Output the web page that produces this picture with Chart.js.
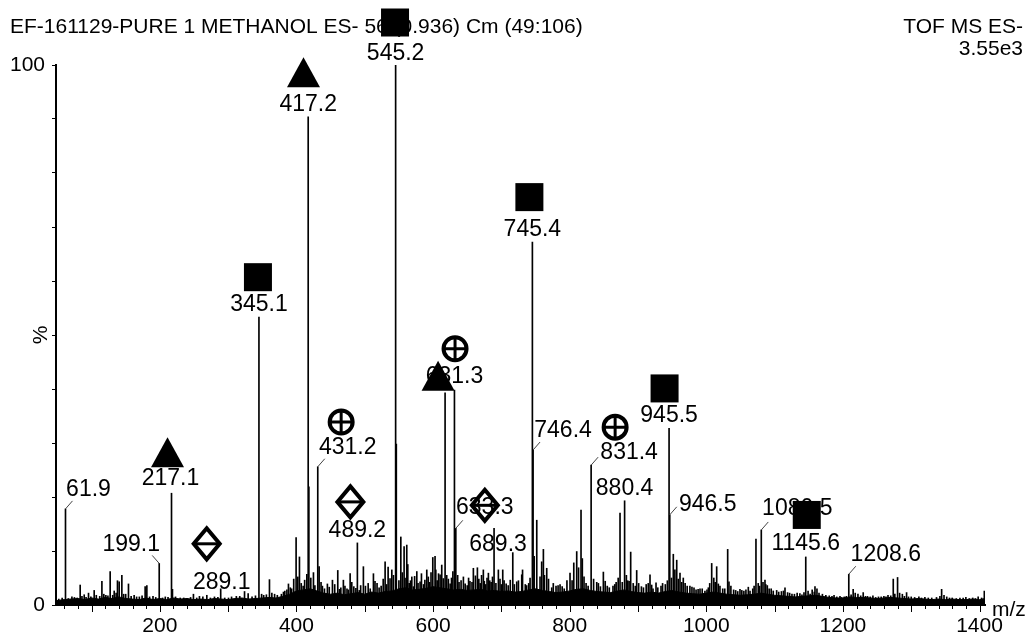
<!DOCTYPE html>
<html>
<head>
<meta charset="utf-8">
<script src="https://cdn.jsdelivr.net/npm/chart.js@4.4.1/dist/chart.umd.min.js"></script>
<style>
html,body{margin:0;padding:0;background:#fff;}
#wrap{width:1032px;height:636px;position:relative;}
</style>
</head>
<body>
<div id="wrap"><canvas id="c" width="1032" height="636"></canvas></div>
<script>
// ---------- DATA ----------
const titleText = 'EF-161129-PURE 1 METHANOL ES- 56 (0.936) Cm (49:106)';
const instrumentLines = ['TOF MS ES-', '3.55e3'];
const xAxisTitle = 'm/z';
const yAxisTitle = '%';
const xTickLabels = [200, 400, 600, 800, 1000, 1200, 1400];
const yTickLabels = [0, 100];

// main stick spectrum: m/z and relative intensity (%)
const peakMz = [
  61.9, 71.3, 83.4, 89.3, 95.6, 103.9, 115.2, 121, 127.3, 133.2, 138, 140.5, 144.4, 150, 154.1, 162.4, 170, 178.5, 181, 190,
  199.1, 208, 217.1, 218.5, 229.8, 240, 249.2, 258, 268.8, 280, 289.1, 300.5, 312, 324, 329.3, 345.1, 352, 360.5, 368, 376.1,
  383, 388.3, 393, 399.5, 404.4, 409.8, 415.2, 417.2, 418.2, 424.9, 431.2, 433.2, 438, 445.3, 452.7, 460.5, 465, 468.7, 474, 478.6,
  484, 489.2, 494, 498, 505, 512.7, 518, 524, 529.8, 534.2, 539.6, 545.2, 546.2, 550, 552.8, 557.6, 561.5, 565, 568.9, 571.2,
  576.2, 581, 586, 590.8, 595, 599.6, 602.9, 606, 610.3, 612.7, 617.6, 622.4, 627, 631.3, 633.3, 638, 644.4, 650, 654, 659,
  664.9, 669, 673.6, 677, 681, 685, 689.3, 695.6, 700, 704, 710, 716.7, 722.5, 729.8, 735, 740, 745.4, 746.4, 751.8, 756.6,
  761.5, 766.4, 773.7, 780, 785.9, 792, 800.5, 803.5, 810.3, 816.6, 818.5, 824, 831.4, 839.6, 845, 849.3, 855, 863.4, 868, 873.7,
  880.4, 885, 889.3, 893, 898.1, 905, 912, 917.6, 922, 926.4, 933.7, 940, 945.5, 946.5, 951.7, 956.7, 961.5, 966.3, 972, 979,
  985, 990.8, 998, 1003, 1007.9, 1015.2, 1017.6, 1024, 1031.3, 1033.2, 1040, 1049.3, 1055, 1061.5, 1068, 1072.7, 1080.5, 1085.9, 1089.3, 1095,
  1103, 1110, 1115.2, 1125.4, 1133, 1140, 1145.6, 1152, 1159.1, 1162, 1170, 1180, 1187, 1195.7, 1202, 1208.6, 1215, 1222, 1229.7, 1236,
  1243.9, 1252, 1260, 1266, 1273.7, 1280, 1287, 1293.2, 1300, 1311.2, 1320, 1330, 1337, 1344.5, 1352, 1360, 1371.3, 1380, 1390, 1398,
  1407
];
const peakIntensity = [
  17.8, 1.5, 3.7, 1.9, 2.2, 2.7, 4.4, 1.8, 6.2, 2.6, 4.5, 4.3, 5.5, 2.0, 3.9, 1.8, 1.5, 3.4, 3.6, 1.6,
  7.7, 1.5, 20.7, 2.9, 1.3, 1.2, 2.0, 1.6, 1.8, 1.5, 3.0, 1.3, 1.6, 2.5, 2.1, 53.3, 1.8, 4.7, 2.0, 1.3,
  2.6, 3.9, 3.0, 12.5, 8.9, 3.5, 5.7, 90.4, 21.9, 6.0, 25.6, 7.1, 3.5, 3.9, 4.6, 6.4, 3.2, 4.6, 3.0, 5.8,
  3.4, 11.5, 3.6, 7.1, 4.0, 5.8, 4.0, 3.5, 8.0, 7.0, 6.5, 100, 29.8, 4.5, 12.6, 10.8, 11.1, 4.0, 5.2, 3.4,
  6.2, 4.3, 3.8, 6.5, 4.2, 8.8, 9.0, 4.5, 5.6, 7.4, 39.3, 4.8, 5.0, 39.8, 14.2, 4.2, 5.2, 3.6, 4.4, 6.8,
  6.9, 4.0, 6.5, 3.8, 5.9, 4.2, 14.2, 6.5, 3.8, 4.5, 3.6, 9.7, 4.3, 5.6, 3.8, 4.0, 67.2, 28.7, 15.7, 5.2,
  10.3, 6.8, 3.2, 3.5, 3.8, 3.0, 5.9, 4.5, 9.9, 17.6, 8.6, 4.0, 25.9, 4.2, 3.4, 6.1, 3.5, 3.5, 4.2, 17.0,
  19.3, 4.5, 9.8, 4.0, 6.4, 3.4, 3.8, 5.6, 3.0, 4.1, 3.5, 3.8, 32.7, 16.7, 9.4, 8.3, 5.9, 5.0, 3.5, 3.3,
  2.8, 3.0, 2.6, 3.2, 7.7, 7.1, 3.9, 3.0, 10.3, 4.3, 2.8, 2.9, 2.6, 3.3, 3.0, 12.2, 13.9, 4.6, 3.6, 3.0,
  2.7, 2.5, 3.2, 2.0, 2.2, 1.9, 8.9, 2.0, 3.4, 3.0, 2.0, 1.7, 1.8, 1.6, 1.5, 5.7, 2.9, 2.0, 2.3, 1.6,
  1.7, 1.5, 1.6, 1.8, 4.8, 5.1, 2.0, 2.3, 1.5, 1.5, 1.4, 1.3, 1.4, 2.9, 1.5, 1.3, 1.3, 1.4, 1.3, 1.5,
  2.6
];

// small noise spikes between the main peaks (%)
const noiseMz = [
  52, 57, 66, 75, 79, 86, 92, 99, 107, 112, 118, 124, 131, 136, 147, 158, 166, 174, 185, 194,
  204, 212, 223, 235, 245, 254, 263, 274, 285, 295, 305, 317, 335, 340, 349, 356, 364, 372, 378,
  381, 386, 391, 396, 402, 407, 412, 421, 427, 436, 441, 448, 456, 463, 471, 476, 481, 487, 492, 501,
  508, 515, 521, 527, 532, 537, 542, 555, 559, 563, 567, 573, 578, 583, 588, 593, 597, 604, 608, 615,
  620, 625, 629, 636, 641, 647, 652, 657, 662, 667, 671, 675, 679, 683, 687, 692, 698, 702, 707, 713,
  719, 725, 731, 737, 742, 748, 759, 763, 769, 776, 783, 789, 796, 806, 813, 821, 827, 835, 842, 852,
  858, 866, 871, 877, 883, 887, 896, 901, 908, 915, 920, 929, 936, 943, 949, 954, 959, 964, 969, 976,
  982, 988, 994, 1001, 1005, 1011, 1013, 1020, 1027, 1036, 1043, 1046, 1052, 1058, 1064, 1070, 1076, 1078, 1083, 1087,
  1092, 1098, 1106, 1113, 1119, 1122, 1129, 1137, 1143, 1149, 1155, 1158, 1165, 1175, 1184, 1191, 1198, 1205, 1212, 1218,
  1226, 1233, 1240, 1248, 1256, 1263, 1270, 1276, 1283, 1290, 1296, 1305, 1315, 1325, 1342, 1348, 1356, 1366, 1376, 1385,
  1394, 1403
];
const noiseIntensity = [
  1.1, 1.3, 1.2, 1.4, 1.3, 1.6, 1.4, 1.5, 1.8, 1.6, 2.0, 1.7, 1.8, 2.2, 2.0, 1.6, 1.5, 1.7, 1.5, 1.4,
  1.3, 1.4, 1.5, 1.3, 1.4, 1.3, 1.5, 1.3, 1.4, 1.3, 1.5, 1.6, 1.5, 1.7, 2.0, 1.9, 2.2, 1.8, 2.0,
  2.4, 2.8, 3.2, 4.8, 5.2, 4.0, 4.6, 5.0, 3.6, 4.2, 3.0, 3.3, 3.8, 2.9, 3.5, 2.8, 4.2, 3.1, 2.7, 3.5,
  3.0, 4.4, 3.2, 4.8, 3.8, 4.9, 5.5, 6.0, 5.0, 7.5, 4.5, 5.3, 4.0, 5.8, 4.6, 5.2, 6.0, 6.5, 5.8, 4.9,
  5.5, 3.9, 6.2, 5.5, 4.5, 3.9, 5.0, 4.2, 5.4, 4.8, 5.5, 4.4, 5.0, 4.5, 5.2, 4.0, 4.8, 6.5, 3.9, 4.6,
  3.8, 4.5, 6.5, 3.6, 5.0, 9.0, 8.0, 5.5, 4.8, 4.0, 3.6, 3.4, 4.5, 7.8, 6.9, 5.2, 3.5, 4.8, 4.0, 4.4,
  3.2, 3.8, 5.0, 4.2, 5.5, 4.4, 3.5, 4.0, 3.2, 4.0, 3.7, 3.2, 4.0, 4.5, 5.0, 6.5, 4.8, 4.2, 4.0, 3.5,
  3.2, 2.9, 3.0, 2.8, 4.0, 5.0, 4.2, 3.5, 3.0, 3.5, 2.7, 2.5, 2.7, 2.8, 2.6, 3.5, 4.0, 3.5, 4.2, 3.8,
  3.0, 2.6, 2.4, 2.6, 2.3, 2.2, 2.0, 2.1, 2.3, 2.6, 2.8, 2.4, 2.2, 1.8, 1.6, 1.5, 1.4, 1.6, 1.9, 2.2,
  1.7, 1.6, 1.5, 1.4, 1.5, 1.5, 1.7, 2.0, 2.2, 1.6, 1.5, 1.4, 1.3, 1.3, 1.6, 1.8, 1.3, 1.2, 1.3, 1.2,
  1.2, 1.3
];

// dense baseline noise band (upper envelope, %)
const floorMz = [
  48, 60, 70, 80, 90, 100, 110, 120, 130, 140, 150, 160, 170, 180, 190, 200, 210, 220, 230, 240,
  250, 260, 270, 280, 290, 300, 310, 320, 330, 340, 350, 360, 370, 380, 390, 400, 410, 420, 430, 440,
  450, 460, 470, 480, 490, 500, 510, 520, 530, 540, 550, 560, 570, 580, 590, 600, 610, 620, 630, 640,
  650, 660, 670, 680, 690, 700, 710, 720, 730, 740, 750, 760, 770, 780, 790, 800, 810, 820, 830, 840,
  850, 860, 870, 880, 890, 900, 910, 920, 930, 940, 950, 960, 970, 980, 990, 1000, 1010, 1020, 1030, 1040,
  1050, 1060, 1070, 1080, 1090, 1100, 1110, 1120, 1130, 1140, 1150, 1160, 1170, 1180, 1190, 1200, 1210, 1220, 1230, 1240,
  1250, 1260, 1270, 1280, 1290, 1300, 1310, 1320, 1330, 1340, 1350, 1360, 1370, 1380, 1390, 1400, 1408
];
const floorIntensity = [
  0.8, 1.0, 1.1, 1.2, 1.0, 1.3, 1.1, 1.4, 1.2, 1.5, 1.2, 1.1, 1.0, 1.3, 1.0, 1.2, 1.0, 1.3, 1.1, 1.2,
  1.0, 1.1, 1.0, 1.2, 1.1, 1.0, 1.2, 1.3, 1.1, 1.2, 1.3, 1.4, 1.3, 1.6, 2.0, 2.6, 2.8, 3.0, 2.6, 2.2,
  2.0, 2.2, 1.9, 2.1, 2.3, 2.0, 2.4, 2.2, 2.5, 2.6, 3.0, 3.2, 2.8, 2.9, 3.1, 3.4, 3.2, 3.0, 2.8, 2.9,
  2.7, 2.8, 2.9, 2.6, 2.7, 2.5, 2.6, 2.4, 2.5, 2.8, 3.0, 2.7, 2.5, 2.3, 2.4, 2.6, 2.9, 3.0, 2.7, 2.5,
  2.4, 2.3, 2.6, 2.8, 2.5, 2.3, 2.2, 2.4, 2.2, 2.5, 2.7, 2.4, 2.2, 2.1, 2.0, 2.2, 2.4, 2.2, 2.0, 1.9,
  1.8, 1.9, 2.0, 2.2, 2.0, 1.8, 1.7, 1.6, 1.5, 1.6, 1.7, 1.8, 1.6, 1.4, 1.3, 1.3, 1.5, 1.4, 1.4, 1.3,
  1.2, 1.3, 1.4, 1.3, 1.2, 1.1, 1.2, 1.1, 1.0, 1.1, 1.0, 1.1, 1.0, 1.0, 1.1, 1.0, 1.2
];

// peak annotations
const labelMz = [61.9, 199.1, 217.1, 289.1, 345.1, 417.2, 431.2, 489.2, 545.2, 631.3, 633.3, 689.3, 745.4, 746.4, 831.4, 880.4, 945.5, 946.5, 1080.5, 1145.6, 1208.6];
const labelText = ['61.9', '199.1', '217.1', '289.1', '345.1', '417.2', '431.2', '489.2', '545.2', '631.3', '633.3', '689.3', '745.4', '746.4', '831.4', '880.4', '945.5', '946.5', '1080.5', '1145.6', '1208.6'];

// symbol markers: shape and the peak they belong to
const markerShape = ['triangle', 'diamond', 'square', 'triangle', 'crossCircle', 'diamond', 'square', 'triangle', 'crossCircle', 'diamond', 'square', 'crossCircle', 'square', 'square'];
const markerMz = [217.1, 289.1, 345.1, 417.2, 431.2, 489.2, 545.2, 617.6, 631.3, 633.3, 745.4, 831.4, 945.5, 1145.6];

// ---------- LAYOUT / STYLE (pixel offsets relative to peak tops) ----------
const labelLayout = {
  '61.9': [23, -21, 1], '199.1': [-28, -21, -1], '217.1': [-1, -16, 0], '289.1': [1, -8, 0],
  '345.1': [0, -14, 0], '417.2': [0, -14, 0], '431.2': [30, -21, 1], '489.2': [0, -14, 0],
  '545.2': [0, -13.5, 0], '631.3': [0, -15, 0], '633.3': [29, -23, 1], '689.3': [4, 14.5, 0],
  '745.4': [0, -14.5, 0], '746.4': [30, -21, 1], '831.4': [38, -14, 1], '880.4': [0, -14, 0],
  '945.5': [0, -15, 0], '946.5': [38, -12, 1], '1080.5': [36, -23, 1], '1145.6': [0, -14.7, 0],
  '1208.6': [37, -21, 1]
};
const markerLayout = [
  [-4, -41], [-14, -45], [-1, -40], [-4.7, -44.5], [23.4, -44.7], [-7, -41], [-0.6, -42.5],
  [-7, -17], [0.6, -41.4], [29, -23], [-3, -45], [24, -38], [-4.5, -40], [1, -42]
];

const FONT = '"Liberation Sans", Arial, sans-serif';
const X_MIN = 48, X_MAX = 1408;

function intensityAt(mz) {
  const i = peakMz.indexOf(mz);
  return i >= 0 ? peakIntensity[i] : 0;
}

const annotate = {
  id: 'annotate',
  afterDraw(chart) {
    const ctx = chart.ctx;
    const xs = chart.scales.x, ys = chart.scales.y;
    const area = chart.chartArea;
    ctx.save();
    ctx.fillStyle = '#000';
    ctx.strokeStyle = '#000';

    // header texts
    ctx.font = '21px ' + FONT;
    ctx.textBaseline = 'alphabetic';
    ctx.textAlign = 'left';
    ctx.fillText(titleText, 10, 33);
    ctx.textAlign = 'right';
    ctx.fillText(instrumentLines[0], 1023, 33);
    ctx.fillText(instrumentLines[1], 1023, 55);

    // x tick marks (minor every 20, longer every 100)
    ctx.lineWidth = 1;
    xs.ticks.forEach(t => {
      const px = Math.round(xs.getPixelForValue(t.value)) + 0.5;
      const len = (t.value % 100 === 0) ? 7 : 4;
      ctx.beginPath();
      ctx.moveTo(px, area.bottom);
      ctx.lineTo(px, area.bottom + len);
      ctx.stroke();
    });

    // axis titles
    ctx.textAlign = 'left';
    ctx.font = '21px ' + FONT;
    ctx.fillText(xAxisTitle, area.right + 7, area.bottom + 11);
    ctx.save();
    ctx.translate(area.left - 9, (area.top + area.bottom) / 2);
    ctx.rotate(-Math.PI / 2);
    ctx.textAlign = 'center';
    ctx.fillText(yAxisTitle, 0, 0);
    ctx.restore();

    // peak labels
    ctx.font = '23px ' + FONT;
    ctx.textAlign = 'center';
    labelMz.forEach((mz, i) => {
      const lay = labelLayout[labelText[i]];
      const px = xs.getPixelForValue(mz);
      const py = ys.getPixelForValue(intensityAt(mz));
      const cx = px + lay[0], cy = py + lay[1];
      if (lay[2] !== 0) {
        ctx.lineWidth = 1;
        ctx.strokeStyle = '#444';
        ctx.beginPath();
        ctx.moveTo(px, py);
        ctx.lineTo(px + 7 * lay[2], py - 8);
        ctx.stroke();
      }
      ctx.fillText(labelText[i], cx, cy + 23 * 0.358);
    });

    // markers
    ctx.strokeStyle = '#000';
    markerMz.forEach((mz, i) => {
      const px = xs.getPixelForValue(mz);
      const py = ys.getPixelForValue(intensityAt(mz));
      const cx = px + markerLayout[i][0], cy = py + markerLayout[i][1];
      const shape = markerShape[i];
      ctx.beginPath();
      if (shape === 'square') {
        ctx.fillRect(cx - 14, cy - 14, 28, 28);
      } else if (shape === 'triangle') {
        ctx.moveTo(cx, cy - 15);
        ctx.lineTo(cx + 16.5, cy + 15);
        ctx.lineTo(cx - 16.5, cy + 15);
        ctx.closePath();
        ctx.fill();
      } else if (shape === 'diamond') {
        ctx.lineWidth = 4;
        ctx.moveTo(cx, cy - 15.5);
        ctx.lineTo(cx + 13, cy);
        ctx.lineTo(cx, cy + 15.5);
        ctx.lineTo(cx - 13, cy);
        ctx.closePath();
        ctx.stroke();
        ctx.beginPath();
        ctx.lineWidth = 3;
        ctx.moveTo(cx - 12, cy);
        ctx.lineTo(cx + 12, cy);
        ctx.stroke();
      } else if (shape === 'crossCircle') {
        ctx.lineWidth = 4;
        ctx.arc(cx, cy, 11.5, 0, Math.PI * 2);
        ctx.stroke();
        ctx.beginPath();
        ctx.lineWidth = 3;
        ctx.moveTo(cx - 11, cy); ctx.lineTo(cx + 11, cy);
        ctx.moveTo(cx, cy - 11); ctx.lineTo(cx, cy + 11);
        ctx.stroke();
      }
    });
    ctx.restore();
  }
};

const peakData = peakMz.map((m, i) => ({ x: m, y: peakIntensity[i] }));
const noiseData = noiseMz.map((m, i) => ({ x: m, y: noiseIntensity[i] }));
const floorData = floorMz.map((m, i) => ({ x: m, y: floorIntensity[i] }));

new Chart(document.getElementById('c'), {
  type: 'bar',
  data: {
    datasets: [
      { type: 'line', data: floorData, borderColor: '#000', borderWidth: 1, backgroundColor: '#000', fill: 'origin', pointRadius: 0, tension: 0, order: 3 },
      { type: 'bar', data: noiseData, backgroundColor: '#000', borderWidth: 0, barThickness: 1, grouped: false, order: 2 },
      { type: 'bar', data: peakData, backgroundColor: '#000', borderWidth: 0, barThickness: 1, grouped: false, order: 1 }
    ]
  },
  options: {
    responsive: false,
    animation: false,
    devicePixelRatio: 1,
    layout: { padding: { top: 65, right: 47, left: 0, bottom: 0 } },
    plugins: { legend: { display: false }, tooltip: { enabled: false } },
    scales: {
      x: {
        type: 'linear', min: X_MIN, max: X_MAX, offset: false,
        afterBuildTicks: s => {
          const t = [];
          for (let v = Math.ceil(X_MIN / 20) * 20; v <= X_MAX; v += 20) t.push({ value: v });
          s.ticks = t;
        },
        afterFit: s => { s.height = 31; },
        ticks: {
          autoSkip: false, maxRotation: 0, minRotation: 0, padding: 1, color: '#000',
          font: { family: FONT, size: 21 },
          callback: v => xTickLabels.includes(v) ? String(v) : ''
        },
        grid: { display: true, drawOnChartArea: false, drawTicks: true, tickLength: 8, color: 'rgba(0,0,0,0)' },
        border: { display: true, color: '#000', width: 2 }
      },
      y: {
        min: 0, max: 100,
        afterFit: s => { s.width = 56; },
        ticks: {
          stepSize: 10, autoSkip: false, padding: 7, color: '#000',
          font: { family: FONT, size: 21 },
          callback: v => yTickLabels.includes(v) ? String(v) : ''
        },
        grid: { display: true, drawOnChartArea: false, drawTicks: true, tickLength: 4, color: '#000' },
        border: { display: true, color: '#000', width: 2 }
      }
    }
  },
  plugins: [annotate]
});
</script>
</body>
</html>
